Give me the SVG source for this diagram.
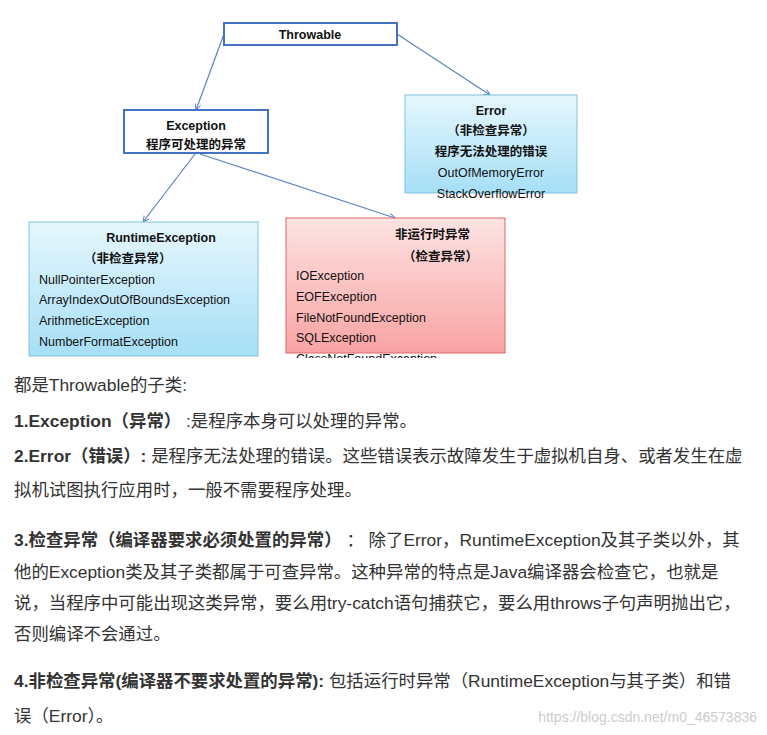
<svg xmlns="http://www.w3.org/2000/svg" width="767" height="735" viewBox="0 0 767 735">
<style>
.d{font-family:"Liberation Sans","Noto Sans CJK SC",sans-serif;font-size:12.5px;fill:#111}
.b{font-weight:bold}
.t{font-family:"Liberation Sans","Noto Sans CJK SC",sans-serif;font-size:17.4px;fill:#333}
.c{stroke:#5a84c0;stroke-width:1.2;fill:none;marker-end:url(#a)}
</style>
<defs>
<marker id="a" markerWidth="8" markerHeight="8" refX="6" refY="3" orient="auto" markerUnits="userSpaceOnUse"><path d="M0,0 L6,3 L0,6" fill="none" stroke="#5a84c0" stroke-width="1"/></marker>
<linearGradient id="bl" x1="0" y1="0" x2="0" y2="1"><stop offset="0" stop-color="#e6f7fd"/><stop offset="1" stop-color="#a6dff7"/></linearGradient>
<linearGradient id="rd" x1="0" y1="0" x2="0" y2="1"><stop offset="0" stop-color="#fde3e3"/><stop offset="1" stop-color="#f9a3a3"/></linearGradient>
<clipPath id="cl"><rect x="0" y="0" width="767" height="358"/></clipPath>
</defs>
<rect width="767" height="735" fill="#fff"/>
<g id="connectors">
<path class="c" d="M224,34 L196,110"/>
<path class="c" d="M397,34 L490,95"/>
<path class="c" d="M195,154 L143,222"/>
<path class="c" d="M200,154 L395,218"/>
</g>
<g id="throwable"><rect x="224" y="23" width="173" height="22" fill="#fff" stroke="#4472c4" stroke-width="2"/><text class="d b" x="310" y="39" text-anchor="middle" font-size="12">Throwable</text></g>
<g id="exception"><rect x="124" y="110" width="144" height="43" fill="#fff" stroke="#4472c4" stroke-width="2"/><text class="d b" x="196" y="130" text-anchor="middle" font-size="12">Exception</text><text class="d b" x="196" y="149" text-anchor="middle" font-size="13">程序可处理的异常</text></g>
<g id="error"><rect x="405" y="95" width="172" height="98" fill="url(#bl)" stroke="#7fc3e0"/><text class="d b" x="491" y="115" text-anchor="middle" font-size="12">Error</text><text class="d b" x="491" y="135" text-anchor="middle" font-size="13">（非检查异常）</text><text class="d b" x="491" y="156" text-anchor="middle" font-size="13">程序无法处理的错误</text><text class="d" x="491" y="177" text-anchor="middle">OutOfMemoryError</text><text class="d" x="491" y="198" text-anchor="middle">StackOverflowError</text></g>
<g id="runtime"><rect x="29" y="222" width="229" height="134" fill="url(#bl)" stroke="#7fc3e0"/><text class="d b" x="161" y="242" text-anchor="middle">RuntimeException</text><text class="d b" x="84" y="263" font-size="13">（非检查异常）</text><text class="d" x="39" y="284">NullPointerException</text><text class="d" x="39" y="304">ArrayIndexOutOfBoundsException</text><text class="d" x="39" y="325">ArithmeticException</text><text class="d" x="39" y="346">NumberFormatException</text></g>
<g id="checked" clip-path="url(#cl)"><rect x="286" y="218" width="219" height="135" fill="url(#rd)" stroke="#d66"/><text class="d b" x="395" y="239" font-size="13">非运行时异常</text><text class="d b" x="403" y="261" font-size="13">（检查异常）</text><text class="d" x="296" y="280">IOException</text><text class="d" x="296" y="301">EOFException</text><text class="d" x="296" y="322">FileNotFoundException</text><text class="d" x="296" y="342">SQLException</text><text class="d" x="296" y="363">ClassNotFoundException</text></g>
<g id="text">
<text class="t" x="14" y="391">都是Throwable的子类:</text>
<text class="t" x="14" y="427"><tspan font-weight="bold">1.Exception（异常）</tspan> :是程序本身可以处理的异常。</text>
<text class="t" x="14" y="462"><tspan font-weight="bold">2.Error（错误）:</tspan> 是程序无法处理的错误。这些错误表示故障发生于虚拟机自身、或者发生在虚</text>
<text class="t" x="14" y="496">拟机试图执行应用时，一般不需要程序处理。</text>
<text class="t" x="14" y="546"><tspan font-weight="bold">3.检查异常（编译器要求必须处置的异常）</tspan> ：  除了Error，RuntimeException及其子类以外，其</text>
<text class="t" x="14" y="578">他的Exception类及其子类都属于可查异常。这种异常的特点是Java编译器会检查它，也就是</text>
<text class="t" x="14" y="609">说，当程序中可能出现这类异常，要么用try-catch语句捕获它，要么用throws子句声明抛出它，</text>
<text class="t" x="14" y="640">否则编译不会通过。</text>
<text class="t" x="14" y="687"><tspan font-weight="bold">4.非检查异常(编译器不要求处置的异常):</tspan> 包括运行时异常（RuntimeException与其子类）和错</text>
<text class="t" x="14" y="722">误（Error）。</text>
<text x="757" y="722" text-anchor="end" font-family="Liberation Sans,sans-serif" font-size="14" fill="#ccc">https://blog.csdn.net/m0_46573836</text>
</g>
</svg>
